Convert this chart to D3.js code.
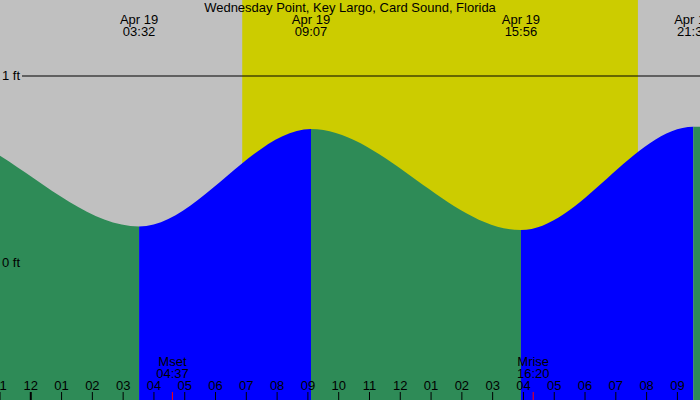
<!DOCTYPE html>
<html>
<head>
<meta charset="utf-8">
<script src="https://cdn.jsdelivr.net/npm/d3@7"></script>
<style>
body { margin: 0; padding: 0; background: #fff; }
svg { display: block; }
text { font-family: "Liberation Sans", Arial, sans-serif; font-size: 13px; fill: #000; }
</style>
</head>
<body>
<script>
// tide data (times local, heights in ft)
var tideTimes = ["2023-04-18 14:20", "2023-04-18 20:36", "2023-04-19 03:32", "2023-04-19 09:07", "2023-04-19 15:56", "2023-04-19 21:32", "2023-04-20 04:15"];
var tideHeights = [0.2, 0.72, 0.195, 0.717, 0.176, 0.729, 0.2];
var sunTimes = ["2023-04-19 06:53", "2023-04-19 19:44"];   // sunrise, sunset
var moonNames = ["Mset", "Mrise"];
var moonTimes = ["2023-04-19 04:37", "2023-04-19 16:20"];
var levelTicks = [0, 1];
var title = "Wednesday Point, Key Largo, Card Sound, Florida";

var W = 700, H = 400;
var parse = d3.timeParse("%Y-%m-%d %H:%M");
var hhmm = d3.timeFormat("%H:%M");
var mday = d3.timeFormat("%b %d");

var tides = tideTimes.map(function(t, i) { return { t: parse(t), h: tideHeights[i] }; });

var x = d3.scaleTime()
    .domain([parse("2023-04-18 23:01"), parse("2023-04-19 21:45")])
    .range([0, W]);
var y = d3.scaleLinear().domain([0, 1]).range([263, 76]);

var svg = d3.select("body").append("svg")
    .attr("width", W)
    .attr("height", H);

// night / day
svg.append("rect").attr("x", 0).attr("y", 0).attr("width", W).attr("height", H).attr("fill", "#c0c0c0");
svg.append("rect")
    .attr("x", x(parse(sunTimes[0])))
    .attr("y", 0)
    .attr("width", x(parse(sunTimes[1])) - x(parse(sunTimes[0])))
    .attr("height", H)
    .attr("fill", "#cccc00");

// 1 ft line
svg.append("line")
    .attr("x1", 22).attr("x2", W)
    .attr("y1", y(1)).attr("y2", y(1))
    .attr("stroke", "#000").attr("stroke-width", 1);

// water area, coloured by rising / falling
var area = d3.area()
    .x(function(d) { return x(d.t); })
    .y0(H)
    .y1(function(d) { return y(d.h); })
    .curve(d3.curveMonotoneX);

svg.append("clipPath").attr("id", "water")
    .append("path").attr("d", area(tides));

var segs = d3.pairs(tides);
svg.append("g").attr("clip-path", "url(#water)")
  .selectAll("rect")
  .data(segs)
  .enter()
  .append("rect")
    .attr("x", function(d) { return x(d[0].t); })
    .attr("y", 0)
    .attr("width", function(d) { return x(d[1].t) - x(d[0].t); })
    .attr("height", H)
    .attr("fill", function(d) { return d[1].h > d[0].h ? "#0000ff" : "#2e8b57"; });

// level labels
svg.selectAll("text.lvl")
  .data(levelTicks)
  .enter()
  .append("text")
    .attr("class", "lvl")
    .attr("x", 2)
    .attr("y", function(d) { return y(d) + 4; })
    .text(function(d) { return d + " ft"; });

// title
svg.append("text")
    .attr("x", W / 2).attr("y", 12)
    .attr("text-anchor", "middle")
    .text(title);

// tide event labels (only those inside the window)
var shown = tides.filter(function(d) { return d.t >= x.domain()[0] && d.t <= x.domain()[1]; });
var ev = svg.selectAll("g.ev")
  .data(shown)
  .enter()
  .append("g")
    .attr("class", "ev")
    .attr("transform", function(d) { return "translate(" + x(d.t) + ",0)"; });
ev.append("text").attr("y", 24).attr("text-anchor", "middle").text(function(d) { return mday(d.t); });
ev.append("text").attr("y", 36).attr("text-anchor", "middle").text(function(d) { return hhmm(d.t); });

// hour axis along the bottom
var hours = d3.timeHour.range(d3.timeHour.floor(x.domain()[0]), x.domain()[1]);
var axis = svg.append("g")
    .attr("transform", "translate(0," + H + ")")
    .call(d3.axisTop(x)
        .tickValues(hours)
        .tickSize(8)
        .tickPadding(2)
        .tickFormat(d3.timeFormat("%I")));
axis.select(".domain").remove();
axis.selectAll("text").attr("font-size", null).attr("font-family", null);
axis.selectAll(".tick line")
    .attr("stroke", "#000")
    .attr("stroke-width", function(d) { return d.getHours() === 0 ? 2 : 1; });

// moon rise / set
var moon = svg.selectAll("g.moon")
  .data(moonTimes)
  .enter()
  .append("g")
    .attr("class", "moon")
    .attr("transform", function(d) { return "translate(" + x(parse(d)) + ",0)"; });
moon.append("line")
    .attr("x1", 0).attr("x2", 0)
    .attr("y1", H - 8).attr("y2", H)
    .attr("stroke", "#ff0000").attr("stroke-width", 1);
moon.append("text").attr("y", 366).attr("text-anchor", "middle").text(function(d, i) { return moonNames[i]; });
moon.append("text").attr("y", 378).attr("text-anchor", "middle").text(function(d) { return hhmm(parse(d)); });
</script>
</body>
</html>
